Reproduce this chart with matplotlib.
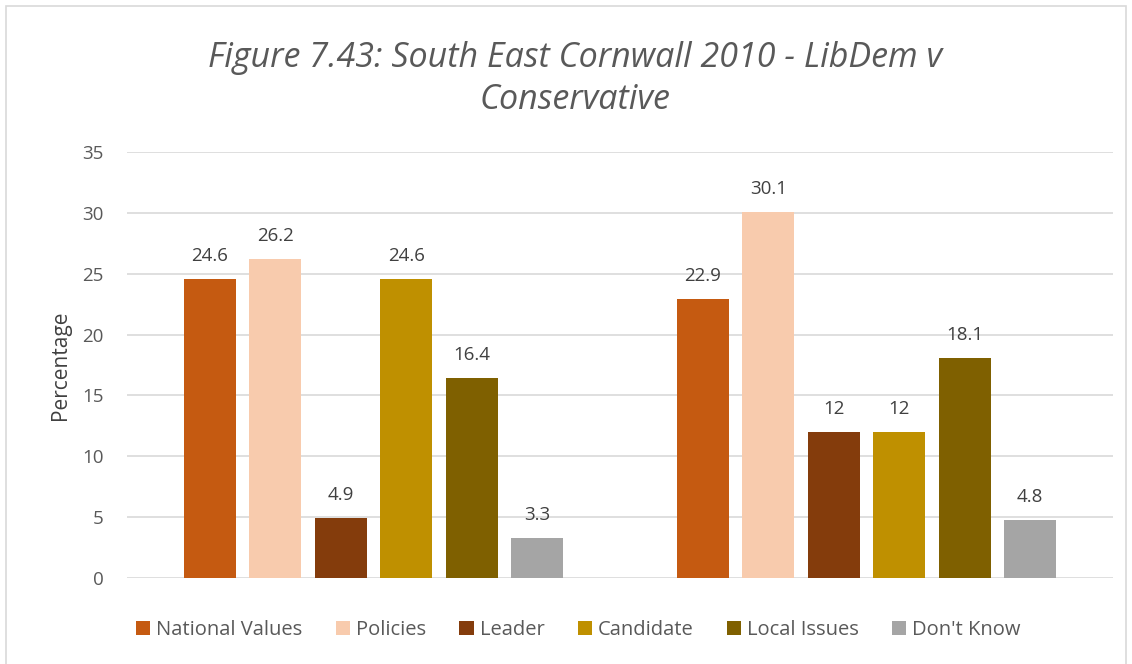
import matplotlib
matplotlib.use("Agg")
import matplotlib.pyplot as plt
import numpy as np
from matplotlib.patches import Rectangle

title = "Figure 7.43: South East Cornwall 2010 - LibDem v\nConservative"
groups = ["LibDem", "Conservative"]
series = ["National Values", "Policies", "Leader", "Candidate", "Local Issues", "Don't Know"]
values = {
    "National Values": [24.6, 22.9],
    "Policies": [26.2, 30.1],
    "Leader": [4.9, 12],
    "Candidate": [24.6, 12],
    "Local Issues": [16.4, 18.1],
    "Don't Know": [3.3, 4.8],
}
colors = ["#C55A11", "#F8CBAD", "#843C0C", "#BF9000", "#7F6000", "#A5A5A5"]
yticks = [0, 5, 10, 15, 20, 25, 30, 35]

plt.rcParams['font.family'] = ['Open Sans', 'DejaVu Sans']

fig = plt.figure(figsize=(11.32, 6.64), dpi=100)
ax = fig.add_axes([0.1122, 0.1295, 0.871, 0.6415])

x = np.arange(len(groups))
step = 0.1327
width = 0.1055
for i, (s, c) in enumerate(zip(series, colors)):
    off = (i - (len(series) - 1) / 2) * step
    bars = ax.bar(x + off, values[s], width=width, color=c, label=s, zorder=3)
    for b, v in zip(bars, values[s]):
        ax.text(b.get_x() + b.get_width() / 2, v + 1.15, f"{v:g}",
                ha='center', va='bottom', fontsize=13.5, color='#404040')

ax.set_xlim(-0.5, 1.5)
ax.set_ylim(0, 35)
ax.set_yticks(yticks)
ax.set_yticklabels([str(t) for t in yticks], fontsize=13.5, color='#595959')
ax.set_xticks([])
ax.tick_params(axis='y', length=0, pad=17)
for sp in ax.spines.values():
    sp.set_visible(False)
ax.yaxis.grid(True, color='#D9D9D9', linewidth=1.2, zorder=0)
ax.set_axisbelow(True)
ax.set_ylabel("Percentage", fontsize=15, color='#404040', labelpad=8)

fig.text(0.508, 0.881, title, ha='center', va='center', fontsize=24.5,
         style='italic', color='#595959', linespacing=1.3)

fig.legend(loc='center', bbox_to_anchor=(0.511, 0.051), ncol=6, frameon=False,
           fontsize=14.5, handlelength=0.7, handleheight=0.7, handletextpad=0.3,
           columnspacing=1.65, labelcolor='#595959')

fig.patches.append(Rectangle((6 / 1132, -0.1), 1120 / 1132, 1.1 - 6 / 664,
                             transform=fig.transFigure, fill=False,
                             edgecolor='#D9D9D9', linewidth=1.2))

fig.savefig("out.png", dpi=100)
